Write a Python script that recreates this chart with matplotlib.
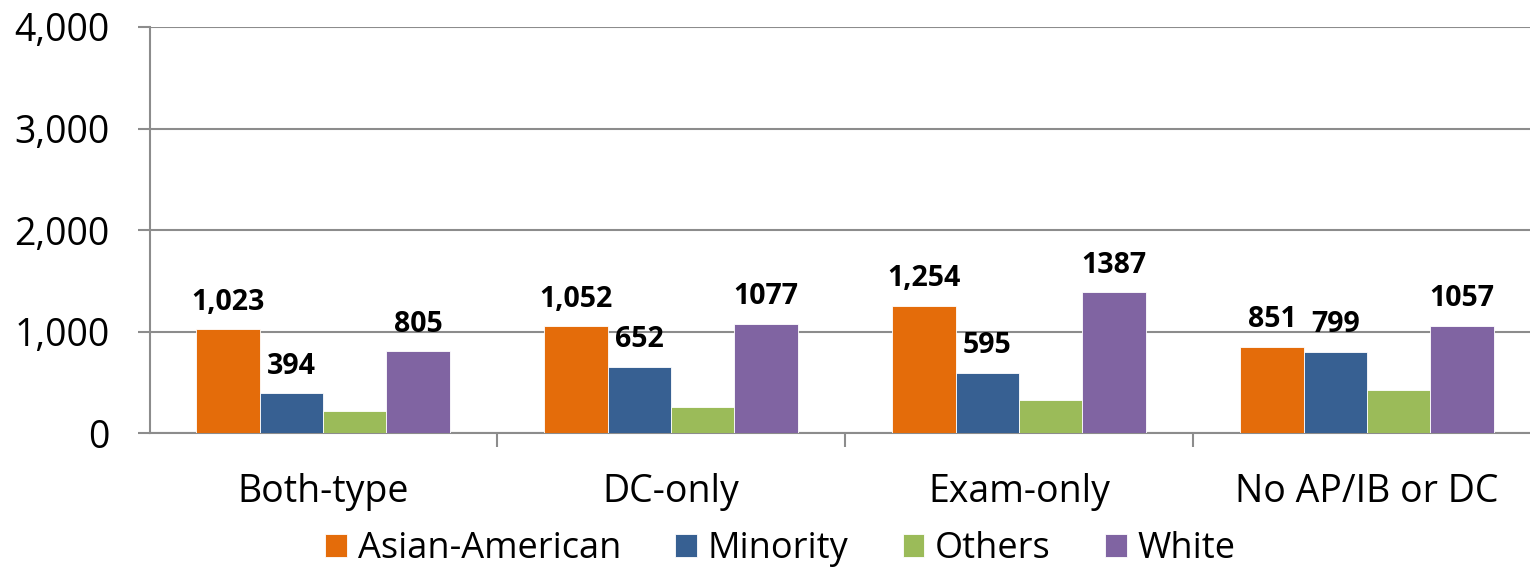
import numpy as np
import matplotlib
matplotlib.use("Agg")
import matplotlib.pyplot as plt
from matplotlib.ticker import FuncFormatter, FixedLocator

plt.rcParams['font.family'] = ['Open Sans', 'DejaVu Sans']

categorias = ["Both-type", "DC-only", "Exam-only", "No AP/IB or DC"]
series = ["Asian-American", "Minority", "Others", "White"]
asian = [1023, 1052, 1254, 851]
minority = [394, 652, 595, 799]
others = [215, 258, 322, 420]
white = [805, 1077, 1387, 1057]
etiquetas_asian = ["1,023", "1,052", "1,254", "851"]
etiquetas_minority = ["394", "652", "595", "799"]
etiquetas_white = ["805", "1077", "1387", "1057"]

colores = ["#E46C0A", "#376092", "#9BBB59", "#8064A2"]
gris = "#8C8C8C"

fig = plt.figure(figsize=(15.3, 5.75), dpi=100)
ax = fig.add_axes([150/1530, 142/575, 1380/1530, 406/575])

x = np.arange(len(categorias))
ancho = 0.182
valores = [asian, minority, others, white]
etiquetas = [etiquetas_asian, etiquetas_minority, None, etiquetas_white]
for i, (vals, col, nombre) in enumerate(zip(valores, colores, series)):
    pos = x + (i - 1.5) * ancho
    barras = ax.bar(pos, vals, width=ancho, color=col, label=nombre,
                    edgecolor="white", linewidth=0.6, zorder=3)
    if etiquetas[i] is not None:
        for b, txt in zip(barras, etiquetas[i]):
            ax.annotate(txt, (b.get_x() + b.get_width()/2, b.get_height()),
                        xytext=(0, 9), textcoords="offset points",
                        ha="center", va="bottom", fontsize=20.5,
                        fontweight="bold", zorder=4)

ax.set_ylim(0, 4000)
ax.set_xlim(-0.497, 3.468)
ax.set_yticks([0, 1000, 2000, 3000, 4000])
ax.yaxis.set_major_formatter(FuncFormatter(lambda v, p: f"{int(v):,}"))
ax.grid(axis="y", color=gris, linewidth=1.5, zorder=0)
ax.set_axisbelow(True)

ax.set_xticks(x)
ax.set_xticklabels(categorias)
ax.xaxis.set_minor_locator(FixedLocator([-0.5, 0.5, 1.5, 2.5]))
ax.tick_params(axis="x", which="major", length=0, pad=29, labelsize=27)
ax.tick_params(axis="x", which="minor", length=10, width=1.5, color=gris)
ax.tick_params(axis="y", length=9, width=1.5, color=gris, pad=20, labelsize=27)

for lado in ["top", "right"]:
    ax.spines[lado].set_visible(False)
for lado in ["left", "bottom"]:
    ax.spines[lado].set_color(gris)
    ax.spines[lado].set_linewidth(1.5)

fig.legend(loc="center", bbox_to_anchor=(0.51, 0.045), ncol=4, frameon=False,
           fontsize=26, handlelength=0.6, handleheight=0.6, columnspacing=1.5,
           handletextpad=0.3, borderpad=0.1)

fig.savefig("out.png", dpi=100)
